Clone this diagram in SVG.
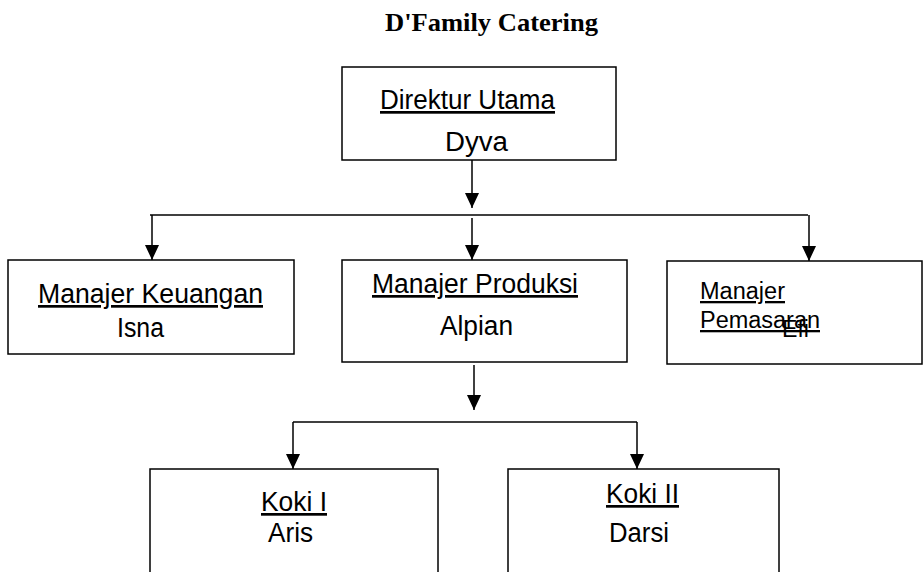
<svg xmlns="http://www.w3.org/2000/svg" width="923" height="572" viewBox="0 0 923 572">
<style>
.box{fill:#fff;stroke:#000;stroke-width:1.5}
.con{fill:none;stroke:#000;stroke-width:1.5}
.t{font-family:"Liberation Sans",Arial,sans-serif;font-size:27px;fill:#000}
.s{font-size:23px}
.u{text-decoration:underline}
.title{font-family:"Liberation Serif","Times New Roman",serif;font-size:26px;font-weight:bold;fill:#000}
</style>
<defs>
<marker id="arr" markerUnits="userSpaceOnUse" markerWidth="16" markerHeight="16" viewBox="0 0 16 16" refX="15" refY="8" orient="auto">
<path d="M0,1 L15,8 L0,15 Z" fill="#000"/>
</marker>
</defs>
<rect width="923" height="572" fill="#fff"/>
<text class="title" x="385" y="31" textLength="213" lengthAdjust="spacingAndGlyphs">D'Family Catering</text>
<g id="connectors">
<path class="con" d="M472,160 V208" marker-end="url(#arr)"/>
<path class="con" d="M150,215 H808"/>
<path class="con" d="M152,215 V260" marker-end="url(#arr)"/>
<path class="con" d="M472,218 V260" marker-end="url(#arr)"/>
<path class="con" d="M809,215 V261" marker-end="url(#arr)"/>
<path class="con" d="M474,365 V410" marker-end="url(#arr)"/>
<path class="con" d="M293,422 H637"/>
<path class="con" d="M293,422 V469" marker-end="url(#arr)"/>
<path class="con" d="M637,422 V469" marker-end="url(#arr)"/>
</g>
<g id="direktur">
<rect class="box" x="342" y="67" width="274" height="93"/>
<text class="t u" x="380" y="109" textLength="175" lengthAdjust="spacingAndGlyphs">Direktur Utama</text>
<text class="t" x="445" y="151" textLength="63" lengthAdjust="spacingAndGlyphs">Dyva</text>
</g>
<g id="keuangan">
<rect class="box" x="8" y="260" width="286" height="94"/>
<text class="t u" x="38" y="303" textLength="225" lengthAdjust="spacingAndGlyphs">Manajer Keuangan</text>
<text class="t" x="117" y="337" textLength="47" lengthAdjust="spacingAndGlyphs">Isna</text>
</g>
<g id="produksi">
<rect class="box" x="342" y="260" width="285" height="102"/>
<text class="t u" x="372" y="293" textLength="206" lengthAdjust="spacingAndGlyphs">Manajer Produksi</text>
<text class="t" x="440" y="335" textLength="73" lengthAdjust="spacingAndGlyphs">Alpian</text>
</g>
<g id="pemasaran">
<rect class="box" x="667" y="261" width="255" height="103"/>
<text class="t s u" x="700" y="299" textLength="85" lengthAdjust="spacingAndGlyphs">Manajer</text>
<text class="t s u" x="700" y="328" textLength="120" lengthAdjust="spacingAndGlyphs">Pemasaran</text>
<text class="t s" x="782" y="337" textLength="27" lengthAdjust="spacingAndGlyphs">Efi</text>
</g>
<g id="koki1">
<rect class="box" x="150" y="469" width="288" height="130"/>
<text class="t u" x="261" y="511" textLength="66" lengthAdjust="spacingAndGlyphs">Koki I</text>
<text class="t" x="268" y="542" textLength="45" lengthAdjust="spacingAndGlyphs">Aris</text>
</g>
<g id="koki2">
<rect class="box" x="508" y="469" width="271" height="130"/>
<text class="t u" x="606" y="503" textLength="73" lengthAdjust="spacingAndGlyphs">Koki II</text>
<text class="t" x="609" y="542" textLength="60" lengthAdjust="spacingAndGlyphs">Darsi</text>
</g>
</svg>
